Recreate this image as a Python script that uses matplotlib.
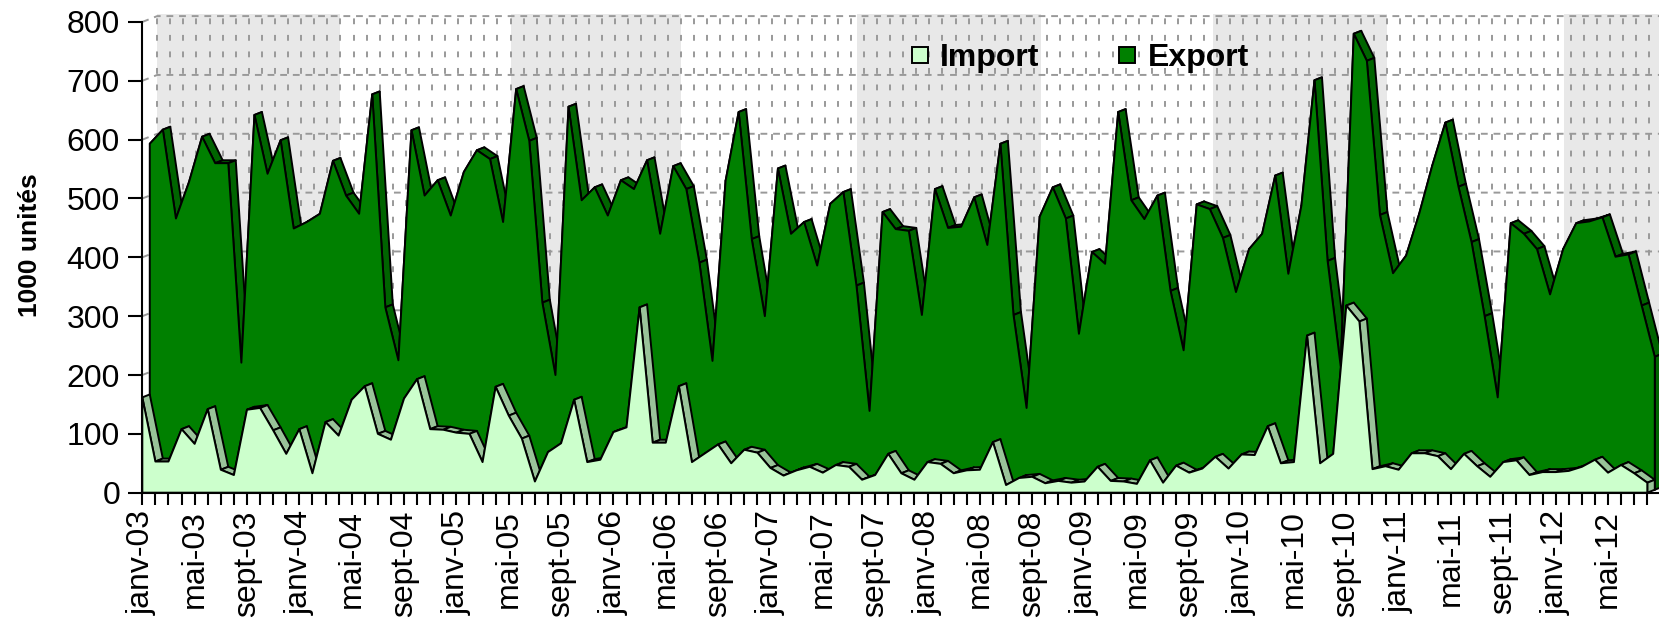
import matplotlib.pyplot as plt
from matplotlib.patches import Polygon, Rectangle

plt.rcParams['font.family'] = ['Liberation Sans', 'DejaVu Sans']

# Monthly categories, janv-03 .. août-12
mois = ['janv', 'févr', 'mars', 'avr', 'mai', 'juin',
        'juil', 'août', 'sept', 'oct', 'nov', 'déc']
categories = [f"{mois[i % 12]}-{3 + i // 12:02d}" for i in range(116)]

# 1000 unités
imports = [162, 53, 53, 108, 83, 142, 39, 30, 141, 144, 106, 66,
           108, 33, 120, 97, 158, 181, 100, 90, 160, 193, 108, 107,
           102, 100, 52, 180, 131, 92, 19, 69, 84, 158, 52, 56,
           103, 111, 315, 85, 85, 181, 52, 67, 82, 50, 73, 68,
           42, 29, 38, 44, 34, 47, 44, 22, 30, 66, 33, 22,
           52, 49, 33, 38, 39, 86, 13, 25, 27, 16, 20, 17,
           19, 44, 20, 19, 15, 55, 17, 46, 34, 41, 61, 41,
           65, 64, 113, 50, 52, 267, 50, 66, 318, 291, 40, 45,
           39, 67, 67, 62, 40, 66, 45, 27, 52, 55, 30, 35,
           35, 37, 44, 56, 34, 47, 33, 17]

exports = [588, 612, 461, 523, 600, 555, 555, 216, 637, 537, 594, 444,
           455, 469, 559, 500, 469, 672, 310, 220, 611, 500, 526, 466,
           540, 577, 562, 455, 681, 593, 318, 195, 651, 492, 514, 466,
           526, 511, 560, 435, 550, 511, 386, 219, 525, 642, 426, 295,
           546, 435, 455, 381, 486, 506, 347, 134, 472, 443, 440, 297,
           511, 445, 447, 497, 416, 588, 297, 139, 464, 514, 461, 265,
           404, 384, 642, 492, 460, 500, 338, 237, 485, 477, 428, 336,
           409, 435, 534, 367, 483, 696, 389, 210, 775, 729, 467, 368,
           398, 469, 551, 624, 515, 421, 295, 157, 453, 435, 409, 332,
           409, 453, 456, 463, 396, 400, 313, 226]

# shaded stripes on the back wall (month positions)
band_edges = [0, 14, 27, 40, 53.5, 67.5, 80.7, 94, 107.5, 117]

DX, DY = 0.57, 5.0          # projected depth of one series slab
LW = 1.4

W, H = 1659, 621
x0_px, y0_px = 142.3, 492.7
px_month, px_unit = 13.087, 0.5884

fig = plt.figure(figsize=(W / 100, H / 100), dpi=100)
ax = fig.add_axes([x0_px / W, 1 - y0_px / H, 1 - x0_px / W, y0_px / H])
xmax = (W - x0_px) / px_month
ax.set_xlim(0, xmax)
ax.set_ylim(0, y0_px / px_unit)

# back wall
bx, by = 2 * DX, 2 * DY
for k in range(len(band_edges) - 1):
    if k % 2 == 0:
        ax.add_patch(Rectangle((band_edges[k] + bx, by),
                               band_edges[k + 1] - band_edges[k], 800 + 3,
                               fc='#e8e8e8', ec='none', zorder=0, clip_on=False))

for m in range(len(imports) + 1):
    ax.plot([m + bx, m + bx], [by, 800 + by], color='#999999', lw=LW,
            ls=(0, (3, 5.5)), zorder=0.5, clip_on=False)
for v in range(0, 801, 100):
    ax.plot([0, bx, xmax + 2], [v, v + by, v + by], color='#999999', lw=LW,
            ls=(0, (3.5, 3)), zorder=0.5, clip_on=False)


def draw_series(values, ox, oy, front, side, z):
    n = len(values)
    for i in range(n - 1):
        quad = [(i + ox, values[i] + oy), (i + 1 + ox, values[i + 1] + oy),
                (i + 1 + ox + DX, values[i + 1] + oy + DY),
                (i + ox + DX, values[i] + oy + DY)]
        ax.add_patch(Polygon(quad, closed=True, fc=side, ec='black', lw=LW,
                             joinstyle='round', zorder=z, clip_on=False))
    last = n - 1
    end = [(last + ox, oy), (last + ox, values[-1] + oy),
           (last + ox + DX, values[-1] + oy + DY), (last + ox + DX, oy + DY)]
    ax.add_patch(Polygon(end, closed=True, fc=side, ec='black', lw=LW,
                         joinstyle='round', zorder=z, clip_on=False))
    outline = [(ox, oy)] + [(i + ox, v + oy) for i, v in enumerate(values)] + [(last + ox, oy)]
    ax.add_patch(Polygon(outline, closed=True, fc=front, ec='black', lw=LW,
                         joinstyle='round', zorder=z + 0.5, clip_on=False))


draw_series(exports, DX, DY, '#008000', '#006400', 1)
draw_series(imports, 0, 0, '#ccffcc', '#99c399', 3)

# axes
for s in ['top', 'right']:
    ax.spines[s].set_visible(False)
ax.spines['left'].set_bounds(0, 800)
for s in ['left', 'bottom']:
    ax.spines[s].set_linewidth(1.5)
    ax.spines[s].set_zorder(10)
ax.set_facecolor('none')

ax.set_yticks(range(0, 801, 100))
ax.tick_params(axis='y', direction='out', length=10, width=1.5, labelsize=23, pad=6)
ax.set_xticks(range(len(categories)))
ax.set_xticklabels([c if i % 4 == 0 else '' for i, c in enumerate(categories)],
                   rotation=90)
ax.tick_params(axis='x', direction='out', length=8.6, width=1.5, labelsize=23, pad=4)

fig.text(29.6 / W, 1 - 245.5 / H, '1000 unités', rotation=90, ha='center',
         va='center', fontsize=19, fontweight='bold')

# legend
for name, color, mx, tx in [('Import', '#ccffcc', 920, 939.5),
                            ('Export', '#008000', 1127, 1148)]:
    fig.patches.append(Rectangle(((mx - 8) / W, 1 - 63 / H), 16 / W, 16 / H,
                                 transform=fig.transFigure, fc=color,
                                 ec='black', lw=LW, zorder=20))
    fig.text(tx / W, 1 - 65.6 / H, name, ha='left', va='baseline',
             fontsize=23, fontweight='bold')

fig.savefig('out.png', dpi=100)
